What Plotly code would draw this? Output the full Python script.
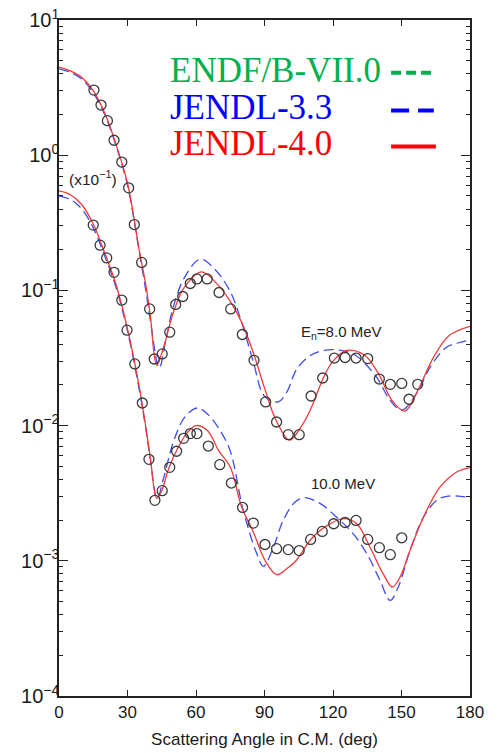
import plotly.graph_objects as go

# ---- measured differential cross sections (open circles) ----
exp8_angle = [15.3, 18.4, 21.2, 24.1, 27.5, 30.5, 33.0, 36.2, 39.7, 41.7, 45.2, 48.5, 51.1,
              54.2, 57.5, 60.4, 64.9, 70.1, 75.2, 80.3, 85.4, 90.5, 95.3, 100.4, 105.2,
              110.4, 115.5, 120.6, 125.3, 130.1, 135.2, 140.3, 145.1, 150.1, 153.3, 157.1]
exp8_val = [3.03, 2.35, 1.80, 1.29, 0.89, 0.574, 0.307, 0.161, 0.073, 0.0311, 0.0339, 0.0491,
            0.0787, 0.0901, 0.1125, 0.1216, 0.1216, 0.0965, 0.073, 0.0472, 0.0304, 0.01496,
            0.01063, 0.00857, 0.00857, 0.01656, 0.0225, 0.0316, 0.0319, 0.0316, 0.0313,
            0.0221, 0.0202, 0.0205, 0.01566, 0.0202]

exp10_angle = [15.0, 18.0, 20.9, 24.1, 27.5, 29.8, 33.2, 36.5, 39.4, 42.0, 45.2, 48.5, 51.5,
               54.6, 57.5, 60.4, 65.4, 70.4, 75.5, 80.4, 85.1, 90.2, 95.3, 100.4, 105.2,
               110.2, 115.3, 120.3, 125.3, 130.1, 135.2, 140.3, 145.1, 150.1]
exp10_val = [0.304, 0.216, 0.174, 0.136, 0.0846, 0.0508, 0.0286, 0.0147, 0.00563, 0.0028,
             0.0033, 0.00491, 0.00646, 0.00805, 0.00873, 0.00873, 0.00706, 0.00514, 0.00376,
             0.00248, 0.0019, 0.00132, 0.00123, 0.00121, 0.00119, 0.00144, 0.00165, 0.00188,
             0.00192, 0.00199, 0.00144, 0.00125, 0.00111, 0.00148]

# ---- evaluated curves: JENDL-4.0 (solid) and JENDL-3.3 (dashed) ----
j40_8_angle = [0, 5, 10, 15, 20, 25, 30, 35, 38, 40, 42.8, 46, 50, 55, 62.5, 70, 75, 80, 85,
               90, 95, 101, 106, 110, 116, 120, 126, 134, 140, 146, 151.5, 157, 164, 171, 180]
j40_8_val = [4.49, 4.2, 3.75, 3.0, 2.05, 1.2, 0.62, 0.205, 0.11, 0.065, 0.028, 0.039, 0.068,
             0.106, 0.137, 0.108, 0.083, 0.058, 0.035, 0.019, 0.011, 0.0078, 0.0098, 0.013,
             0.023, 0.030, 0.036, 0.033, 0.024, 0.0152, 0.0128, 0.018, 0.032, 0.0466, 0.0543]

j33_8_angle = [0, 5, 10, 15, 20, 25, 30, 35, 38, 40, 43.9, 47, 50, 55, 61.8, 68, 75, 80, 85,
               90, 96, 100, 104, 110, 116, 123, 130, 139, 145, 150.1, 156.7, 162.5, 169.8,
               175, 180]
j33_8_val = [4.35, 4.1, 3.65, 2.9, 2.0, 1.17, 0.6, 0.2, 0.10, 0.06, 0.0267, 0.045, 0.075,
             0.125, 0.170, 0.145, 0.098, 0.058, 0.030, 0.0165, 0.015, 0.018, 0.026, 0.033,
             0.036, 0.0361, 0.033, 0.0229, 0.0154, 0.013, 0.0174, 0.027, 0.0381, 0.041, 0.0428]

j40_10_angle = [0, 5, 10, 15, 20, 25, 30, 35, 38, 40, 42.8, 45, 48, 52, 56, 60, 65, 70, 75,
                80, 85, 90.2, 95.3, 100, 104, 110, 116, 124.5, 130.4, 136.2, 142, 146, 149.4,
                153.7, 159.6, 166.9, 174.2, 180]
j40_10_val = [0.544, 0.51, 0.43, 0.31, 0.19, 0.11, 0.052, 0.020, 0.0098, 0.0058, 0.0029,
              0.0033, 0.0048, 0.0068, 0.0088, 0.0100, 0.0092, 0.0065, 0.00494, 0.0025,
              0.00165, 0.00101, 0.00079, 0.00088, 0.00101, 0.00142, 0.00176, 0.00205,
              0.00188, 0.00126, 0.0008, 0.00064, 0.00076, 0.00119, 0.0021, 0.00352, 0.00454,
              0.00489]

j33_10_angle = [0, 5, 10, 15, 20, 25, 30, 35, 38, 40, 43, 46, 50, 55, 60.6, 65, 70, 74.9,
                80.7, 86.6, 89.5, 93.9, 98.2, 103.4, 107.7, 114.3, 121.6, 128.9, 134.8, 140.6,
                145, 148.6, 153.7, 159.6, 165.4, 169.8, 175.7, 180]
j33_10_val = [0.501, 0.47, 0.40, 0.29, 0.18, 0.105, 0.05, 0.019, 0.0095, 0.0056, 0.0029,
              0.0042, 0.0075, 0.0115, 0.0135, 0.0122, 0.0095, 0.00656, 0.00236, 0.00113,
              0.00091, 0.00126, 0.00199, 0.00272, 0.00293, 0.00266, 0.0021, 0.00158, 0.00113,
              0.000716, 0.000509, 0.00064, 0.00119, 0.0021, 0.0028, 0.0030, 0.0030, 0.00293]

x_ticks = [0, 30, 60, 90, 120, 150, 180]
y_tick_vals = [1e-4, 1e-3, 1e-2, 1e-1, 1, 10]
y_tick_text = ["10<sup>\u22124</sup>", "10<sup>\u22123</sup>", "10<sup>\u22122</sup>",
               "10<sup>\u22121</sup>", "10<sup>0</sup>", "10<sup>1</sup>"]
# minor ticks at 2..9 within each decade
y_minor_vals = [m * d for d in y_tick_vals[:-1] for m in range(2, 10)]

RED = "#f03a3a"
BLUE = "#3f4cf0"
DOT = "#3a3a3a"

fig = go.Figure()

for ang, val in [(j33_8_angle, j33_8_val), (j33_10_angle, j33_10_val)]:
    fig.add_trace(go.Scatter(x=ang, y=val, mode="lines", line_shape="spline",
                             line=dict(color=BLUE, width=1.3, dash="10px,5px"),
                             showlegend=False, hoverinfo="skip"))
for ang, val in [(j40_8_angle, j40_8_val), (j40_10_angle, j40_10_val)]:
    fig.add_trace(go.Scatter(x=ang, y=val, mode="lines", line_shape="spline",
                             line=dict(color=RED, width=1.3),
                             showlegend=False, hoverinfo="skip"))
for ang, val in [(exp8_angle, exp8_val), (exp10_angle, exp10_val)]:
    fig.add_trace(go.Scatter(x=ang, y=val, mode="markers",
                             marker=dict(symbol="circle-open", size=10, color=DOT,
                                         line=dict(color=DOT, width=1.3)),
                             showlegend=False))

# legend, drawn by hand: text on the left, line sample on the right
legend_rows = [("ENDF/B-VII.0", "#00b050", 0.926, "10px,5px"),
               ("JENDL-3.3", "#0000ff", 0.870, "18px,9px"),
               ("JENDL-4.0", "#ff0000", 0.817, "solid")]
for label, color, yp, dash in legend_rows:
    fig.add_annotation(text=label, x=0.2652, y=yp, xref="paper", yref="paper",
                       xanchor="left", yanchor="middle", showarrow=False,
                       font=dict(family="Liberation Serif", size=35, color=color))
    fig.add_shape(type="line", xref="paper", yref="paper", x0=0.808,
                  x1=0.917 if dash == "solid" else 0.912, y0=yp - 0.004, y1=yp - 0.004,
                  line=dict(color=color, width=4, dash=dash))

text_labels = [("(x10<sup>\u22121</sup>)", 0.0827, 0.766, 15.5),
               ("E<sub>n</sub>=8.0 MeV", 0.686, 0.538, 15),
               ("10.0 MeV", 0.691, 0.315, 15)]
for txt, xp, yp, fs in text_labels:
    fig.add_annotation(text=txt, x=xp, y=yp, xref="paper", yref="paper",
                       xanchor="center", yanchor="middle", showarrow=False,
                       font=dict(family="Liberation Sans", size=fs, color="#222222"))

axis_common = dict(showline=True, linecolor="#222222", linewidth=1.5, mirror="allticks",
                   ticks="inside", tickcolor="#222222", showgrid=False, zeroline=False,
                   automargin=False)

fig.update_xaxes(range=[0, 180], tickvals=x_ticks, ticklen=6, tickwidth=1.2,
                 tickfont=dict(family="Liberation Sans", size=17, color="#1a1a1a"),
                 title=dict(text="Scattering Angle in C.M. (deg)", standoff=12,
                            font=dict(family="Liberation Sans", size=17, color="#1a1a1a")),
                 **axis_common)
fig.update_yaxes(type="log", range=[-4, 1], tickvals=y_tick_vals, ticktext=y_tick_text,
                 ticklen=9, tickwidth=1.4, ticklabelstandoff=-6,
                 tickfont=dict(family="Liberation Sans", size=20, color="#1a1a1a"),
                 minor=dict(ticks="inside", ticklen=4, tickwidth=1.1, tickcolor="#222222",
                            tickmode="array", tickvals=y_minor_vals, showgrid=False),
                 **axis_common)

fig.update_layout(width=498, height=753, margin=dict(l=59, r=28, t=20, b=57),
                  plot_bgcolor="white", paper_bgcolor="white", showlegend=False)

fig.write_html("out.html")
